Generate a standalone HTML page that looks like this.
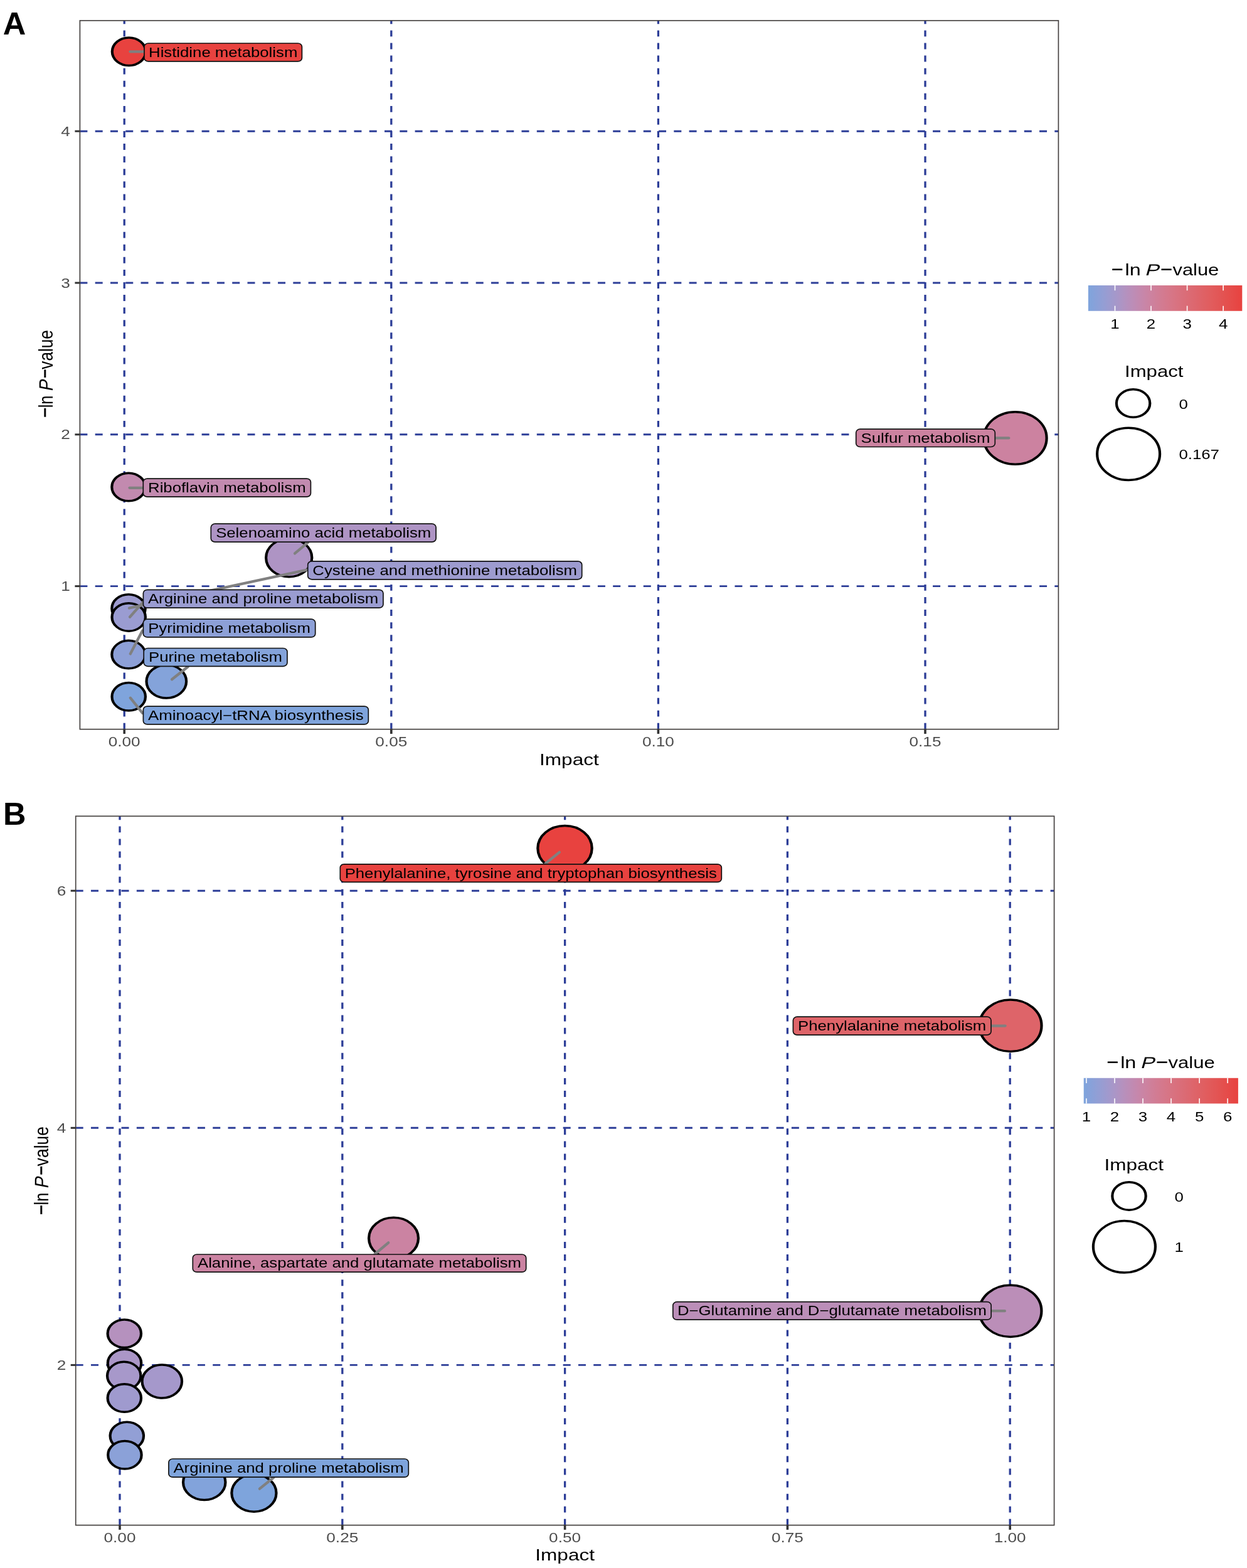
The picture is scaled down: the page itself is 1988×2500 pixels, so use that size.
<!DOCTYPE html>
<html><head><meta charset="utf-8"><title>Pathway analysis</title>
<style>html,body{margin:0;padding:0;background:#fff;} svg{display:block;}</style></head>
<body>
<svg width="1988" height="2500" viewBox="0 0 1988 2500" font-family='"Liberation Sans", Arial, Helvetica, sans-serif'><rect x="0" y="0" width="1988" height="2500" fill="#fff"/>
<line x1="127.4" y1="934.60" x2="1687.4" y2="934.60" stroke="#2d3e98" stroke-width="2.9" stroke-dasharray="12 12.28"/>
<line x1="127.4" y1="692.80" x2="1687.4" y2="692.80" stroke="#2d3e98" stroke-width="2.9" stroke-dasharray="12 12.28"/>
<line x1="127.4" y1="451.00" x2="1687.4" y2="451.00" stroke="#2d3e98" stroke-width="2.9" stroke-dasharray="12 12.28"/>
<line x1="127.4" y1="209.20" x2="1687.4" y2="209.20" stroke="#2d3e98" stroke-width="2.9" stroke-dasharray="12 12.28"/>
<line x1="198.20" y1="1162.7" x2="198.20" y2="32.8" stroke="#2d3e98" stroke-width="3.3" stroke-dasharray="9.9 10.18"/>
<line x1="623.80" y1="1162.7" x2="623.80" y2="32.8" stroke="#2d3e98" stroke-width="3.3" stroke-dasharray="9.9 10.18"/>
<line x1="1049.40" y1="1162.7" x2="1049.40" y2="32.8" stroke="#2d3e98" stroke-width="3.3" stroke-dasharray="9.9 10.18"/>
<line x1="1475.00" y1="1162.7" x2="1475.00" y2="32.8" stroke="#2d3e98" stroke-width="3.3" stroke-dasharray="9.9 10.18"/>
<g transform="translate(205.50 82.30) scale(1.2 1)"><circle r="22.25" fill="#e8423f" stroke="#000" stroke-width="3.5"/></g>
<g transform="translate(1618.50 698.40) scale(1.2 1)"><circle r="41.75" fill="#cc82a0" stroke="#000" stroke-width="3.5"/></g>
<g transform="translate(205.00 776.50) scale(1.2 1)"><circle r="22.25" fill="#c28aaf" stroke="#000" stroke-width="3.5"/></g>
<g transform="translate(460.70 889.20) scale(1.2 1)"><circle r="30.50" fill="#ae94c4" stroke="#000" stroke-width="3.5"/></g>
<g transform="translate(205.00 970.00) scale(1.2 1)"><circle r="22.25" fill="#9d9bcf" stroke="#000" stroke-width="3.5"/></g>
<g transform="translate(205.20 983.90) scale(1.2 1)"><circle r="22.25" fill="#9a9cd1" stroke="#000" stroke-width="3.5"/></g>
<g transform="translate(205.00 1043.60) scale(1.2 1)"><circle r="22.25" fill="#8da0d7" stroke="#000" stroke-width="3.5"/></g>
<g transform="translate(265.30 1086.50) scale(1.2 1)"><circle r="26.50" fill="#84a3da" stroke="#000" stroke-width="3.5"/></g>
<g transform="translate(205.20 1110.70) scale(1.2 1)"><circle r="22.25" fill="#7fa4dc" stroke="#000" stroke-width="3.5"/></g>
<line x1="207.5" y1="82.3" x2="232.0" y2="82.3" stroke="#808080" stroke-width="4.3" stroke-linecap="round"/>
<line x1="1608.3" y1="698.4" x2="1586.0" y2="698.4" stroke="#808080" stroke-width="4.3" stroke-linecap="round"/>
<line x1="206.5" y1="777.8" x2="230.0" y2="777.8" stroke="#808080" stroke-width="4.3" stroke-linecap="round"/>
<line x1="470.0" y1="882.4" x2="491.0" y2="864.9" stroke="#808080" stroke-width="4.3" stroke-linecap="round"/>
<line x1="206.0" y1="969.5" x2="490.3" y2="908.3" stroke="#808080" stroke-width="4.3" stroke-linecap="round"/>
<line x1="207.0" y1="983.7" x2="228.4" y2="959.6" stroke="#808080" stroke-width="4.3" stroke-linecap="round"/>
<line x1="207.8" y1="1042.4" x2="227.1" y2="1005.4" stroke="#808080" stroke-width="4.3" stroke-linecap="round"/>
<line x1="274.0" y1="1083.2" x2="299.6" y2="1063.0" stroke="#808080" stroke-width="4.3" stroke-linecap="round"/>
<line x1="207.8" y1="1112.7" x2="227.1" y2="1136.9" stroke="#808080" stroke-width="4.3" stroke-linecap="round"/>
<rect x="230.00" y="69.00" width="251.40" height="28.90" rx="6.5" ry="5.5" fill="#e8423f" stroke="#111" stroke-width="1.7"/>
<text x="237.09" y="91.00" font-size="21.5" fill="#000" text-anchor="start" textLength="237.23" lengthAdjust="spacingAndGlyphs">Histidine metabolism</text>
<rect x="1364.70" y="684.20" width="221.60" height="28.30" rx="6.5" ry="5.5" fill="#cc82a0" stroke="#111" stroke-width="1.7"/>
<text x="1372.61" y="705.60" font-size="21.5" fill="#000" text-anchor="start" textLength="205.79" lengthAdjust="spacingAndGlyphs">Sulfur metabolism</text>
<rect x="228.30" y="763.10" width="267.10" height="29.00" rx="6.5" ry="5.5" fill="#c28aaf" stroke="#111" stroke-width="1.7"/>
<text x="236.09" y="785.20" font-size="21.5" fill="#000" text-anchor="start" textLength="251.53" lengthAdjust="spacingAndGlyphs">Riboflavin metabolism</text>
<rect x="336.30" y="835.20" width="358.80" height="28.90" rx="6.5" ry="5.5" fill="#ae94c4" stroke="#111" stroke-width="1.7"/>
<text x="344.18" y="857.20" font-size="21.5" fill="#000" text-anchor="start" textLength="343.03" lengthAdjust="spacingAndGlyphs">Selenoamino acid metabolism</text>
<rect x="490.70" y="894.90" width="437.00" height="28.90" rx="6.5" ry="5.5" fill="#9d9bcf" stroke="#111" stroke-width="1.7"/>
<text x="498.38" y="916.90" font-size="21.5" fill="#000" text-anchor="start" textLength="421.64" lengthAdjust="spacingAndGlyphs">Cysteine and methionine metabolism</text>
<rect x="228.40" y="940.30" width="382.50" height="28.90" rx="6.5" ry="5.5" fill="#9a9cd1" stroke="#111" stroke-width="1.7"/>
<text x="235.98" y="962.30" font-size="21.5" fill="#000" text-anchor="start" textLength="367.34" lengthAdjust="spacingAndGlyphs">Arginine and proline metabolism</text>
<rect x="228.40" y="987.20" width="274.30" height="28.70" rx="6.5" ry="5.5" fill="#8da0d7" stroke="#111" stroke-width="1.7"/>
<text x="236.23" y="1009.00" font-size="21.5" fill="#000" text-anchor="start" textLength="258.65" lengthAdjust="spacingAndGlyphs">Pyrimidine metabolism</text>
<rect x="229.20" y="1033.50" width="228.70" height="28.80" rx="6.5" ry="5.5" fill="#84a3da" stroke="#111" stroke-width="1.7"/>
<text x="237.08" y="1055.40" font-size="21.5" fill="#000" text-anchor="start" textLength="212.94" lengthAdjust="spacingAndGlyphs">Purine metabolism</text>
<rect x="228.40" y="1126.10" width="358.90" height="28.80" rx="6.5" ry="5.5" fill="#7fa4dc" stroke="#111" stroke-width="1.7"/>
<text x="235.99" y="1148.00" font-size="21.5" fill="#000" text-anchor="start" textLength="343.71" lengthAdjust="spacingAndGlyphs">Aminoacyl−tRNA biosynthesis</text>
<rect x="127.4" y="32.8" width="1560.0" height="1129.9" fill="none" stroke="#464241" stroke-width="1.7"/>
<line x1="119.4" y1="934.60" x2="127.4" y2="934.60" stroke="#333333" stroke-width="3"/>
<text x="97.35" y="942.20" font-size="21.8" fill="#4d4d4d" text-anchor="start" textLength="14.55" lengthAdjust="spacingAndGlyphs">1</text>
<line x1="119.4" y1="692.80" x2="127.4" y2="692.80" stroke="#333333" stroke-width="3"/>
<text x="97.35" y="700.40" font-size="21.8" fill="#4d4d4d" text-anchor="start" textLength="14.55" lengthAdjust="spacingAndGlyphs">2</text>
<line x1="119.4" y1="451.00" x2="127.4" y2="451.00" stroke="#333333" stroke-width="3"/>
<text x="97.35" y="458.60" font-size="21.8" fill="#4d4d4d" text-anchor="start" textLength="14.55" lengthAdjust="spacingAndGlyphs">3</text>
<line x1="119.4" y1="209.20" x2="127.4" y2="209.20" stroke="#333333" stroke-width="3"/>
<text x="97.35" y="216.80" font-size="21.8" fill="#4d4d4d" text-anchor="start" textLength="14.55" lengthAdjust="spacingAndGlyphs">4</text>
<line x1="198.20" y1="1162.7" x2="198.20" y2="1170.0" stroke="#333333" stroke-width="3.6"/>
<text x="172.74" y="1190.30" font-size="21.8" fill="#4d4d4d" text-anchor="start" textLength="50.91" lengthAdjust="spacingAndGlyphs">0.00</text>
<line x1="623.80" y1="1162.7" x2="623.80" y2="1170.0" stroke="#333333" stroke-width="3.6"/>
<text x="598.34" y="1190.30" font-size="21.8" fill="#4d4d4d" text-anchor="start" textLength="50.91" lengthAdjust="spacingAndGlyphs">0.05</text>
<line x1="1049.40" y1="1162.7" x2="1049.40" y2="1170.0" stroke="#333333" stroke-width="3.6"/>
<text x="1023.94" y="1190.30" font-size="21.8" fill="#4d4d4d" text-anchor="start" textLength="50.91" lengthAdjust="spacingAndGlyphs">0.10</text>
<line x1="1475.00" y1="1162.7" x2="1475.00" y2="1170.0" stroke="#333333" stroke-width="3.6"/>
<text x="1449.54" y="1190.30" font-size="21.8" fill="#4d4d4d" text-anchor="start" textLength="50.91" lengthAdjust="spacingAndGlyphs">0.15</text>
<text x="860.04" y="1219.60" font-size="26.3" fill="#000" text-anchor="start" textLength="94.71" lengthAdjust="spacingAndGlyphs">Impact</text>
<g transform="translate(83.50 595.90) scale(1.2 1) rotate(-90)"><text stroke="#000" stroke-width="0.55" x="-70.00" y="-1.00" font-size="25.8" fill="#000" textLength="15.99" lengthAdjust="spacingAndGlyphs">−</text><text x="-54.46" y="0.00" font-size="25.8" fill="#000" textLength="19.76" lengthAdjust="spacingAndGlyphs">ln</text><g transform="translate(-28.70 0.00) scale(1.0651 1) skewX(-12)"><text x="0" y="0" font-size="25.8">P</text></g><text stroke="#000" stroke-width="0.55" x="-7.29" y="-1.00" font-size="25.8" fill="#000" textLength="14.66" lengthAdjust="spacingAndGlyphs">−</text><text x="7.26" y="0.00" font-size="25.8" fill="#000" textLength="62.55" lengthAdjust="spacingAndGlyphs">value</text></g>
<line x1="120.7" y1="2176.40" x2="1680.6" y2="2176.40" stroke="#2d3e98" stroke-width="2.9" stroke-dasharray="12 12.28"/>
<line x1="120.7" y1="1798.30" x2="1680.6" y2="1798.30" stroke="#2d3e98" stroke-width="2.9" stroke-dasharray="12 12.28"/>
<line x1="120.7" y1="1420.20" x2="1680.6" y2="1420.20" stroke="#2d3e98" stroke-width="2.9" stroke-dasharray="12 12.28"/>
<line x1="191.00" y1="2431.7" x2="191.00" y2="1301.3" stroke="#2d3e98" stroke-width="3.3" stroke-dasharray="9.9 10.18"/>
<line x1="545.80" y1="2431.7" x2="545.80" y2="1301.3" stroke="#2d3e98" stroke-width="3.3" stroke-dasharray="9.9 10.18"/>
<line x1="900.60" y1="2431.7" x2="900.60" y2="1301.3" stroke="#2d3e98" stroke-width="3.3" stroke-dasharray="9.9 10.18"/>
<line x1="1255.40" y1="2431.7" x2="1255.40" y2="1301.3" stroke="#2d3e98" stroke-width="3.3" stroke-dasharray="9.9 10.18"/>
<line x1="1610.20" y1="2431.7" x2="1610.20" y2="1301.3" stroke="#2d3e98" stroke-width="3.3" stroke-dasharray="9.9 10.18"/>
<g transform="translate(900.50 1352.50) scale(1.2 1)"><circle r="36.00" fill="#e8423f" stroke="#000" stroke-width="3.5"/></g>
<g transform="translate(1611.00 1635.20) scale(1.2 1)"><circle r="41.25" fill="#de6469" stroke="#000" stroke-width="3.5"/></g>
<g transform="translate(627.50 1974.20) scale(1.2 1)"><circle r="32.90" fill="#cb83a2" stroke="#000" stroke-width="3.5"/></g>
<g transform="translate(1610.90 2090.20) scale(1.2 1)"><circle r="41.25" fill="#bb8eb8" stroke="#000" stroke-width="3.5"/></g>
<g transform="translate(198.30 2126.30) scale(1.2 1)"><circle r="22.25" fill="#b591be" stroke="#000" stroke-width="3.5"/></g>
<g transform="translate(198.50 2173.50) scale(1.2 1)"><circle r="22.25" fill="#ab96c7" stroke="#000" stroke-width="3.5"/></g>
<g transform="translate(197.70 2193.60) scale(1.2 1)"><circle r="22.25" fill="#a798ca" stroke="#000" stroke-width="3.5"/></g>
<g transform="translate(258.30 2202.50) scale(1.2 1)"><circle r="26.45" fill="#a598cb" stroke="#000" stroke-width="3.5"/></g>
<g transform="translate(198.30 2229.00) scale(1.2 1)"><circle r="22.25" fill="#9f9ace" stroke="#000" stroke-width="3.5"/></g>
<g transform="translate(202.30 2289.50) scale(1.2 1)"><circle r="22.25" fill="#929fd5" stroke="#000" stroke-width="3.5"/></g>
<g transform="translate(198.90 2319.80) scale(1.2 1)"><circle r="22.25" fill="#8ba1d8" stroke="#000" stroke-width="3.5"/></g>
<g transform="translate(325.70 2363.30) scale(1.2 1)"><circle r="28.10" fill="#82a3db" stroke="#000" stroke-width="3.5"/></g>
<g transform="translate(404.90 2380.50) scale(1.2 1)"><circle r="29.65" fill="#7ea4dc" stroke="#000" stroke-width="3.5"/></g>
<line x1="891.8" y1="1358.8" x2="869.4" y2="1377.0" stroke="#808080" stroke-width="4.3" stroke-linecap="round"/>
<line x1="1602.6" y1="1635.6" x2="1580.0" y2="1635.6" stroke="#808080" stroke-width="4.3" stroke-linecap="round"/>
<line x1="619.2" y1="1981.4" x2="597.6" y2="1999.5" stroke="#808080" stroke-width="4.3" stroke-linecap="round"/>
<line x1="1601.8" y1="2090.2" x2="1580.0" y2="2090.2" stroke="#808080" stroke-width="4.3" stroke-linecap="round"/>
<line x1="413.9" y1="2373.6" x2="436.5" y2="2355.5" stroke="#808080" stroke-width="4.3" stroke-linecap="round"/>
<rect x="542.30" y="1377.80" width="608.00" height="28.60" rx="6.5" ry="5.5" fill="#e8423f" stroke="#111" stroke-width="1.7"/>
<text x="549.68" y="1399.50" font-size="21.5" fill="#000" text-anchor="start" textLength="593.23" lengthAdjust="spacingAndGlyphs">Phenylalanine, tyrosine and tryptophan biosynthesis</text>
<rect x="1264.40" y="1621.20" width="315.60" height="28.90" rx="6.5" ry="5.5" fill="#de6469" stroke="#111" stroke-width="1.7"/>
<text x="1272.12" y="1643.20" font-size="21.5" fill="#000" text-anchor="start" textLength="300.17" lengthAdjust="spacingAndGlyphs">Phenylalanine metabolism</text>
<rect x="307.30" y="2000.00" width="531.40" height="28.20" rx="6.5" ry="5.5" fill="#cb83a2" stroke="#111" stroke-width="1.7"/>
<text x="314.99" y="2021.30" font-size="21.5" fill="#000" text-anchor="start" textLength="516.01" lengthAdjust="spacingAndGlyphs">Alanine, aspartate and glutamate metabolism</text>
<rect x="1072.80" y="2075.70" width="507.30" height="28.50" rx="6.5" ry="5.5" fill="#bb8eb8" stroke="#111" stroke-width="1.7"/>
<text x="1079.90" y="2097.30" font-size="21.5" fill="#000" text-anchor="start" textLength="493.10" lengthAdjust="spacingAndGlyphs">D−Glutamine and D−glutamate metabolism</text>
<rect x="268.90" y="2326.00" width="382.40" height="29.20" rx="6.5" ry="5.5" fill="#7ea4dc" stroke="#111" stroke-width="1.7"/>
<text x="276.43" y="2348.30" font-size="21.5" fill="#000" text-anchor="start" textLength="367.34" lengthAdjust="spacingAndGlyphs">Arginine and proline metabolism</text>
<rect x="120.7" y="1301.3" width="1559.8999999999999" height="1130.3999999999999" fill="none" stroke="#464241" stroke-width="1.7"/>
<line x1="112.7" y1="2176.40" x2="120.7" y2="2176.40" stroke="#333333" stroke-width="3"/>
<text x="90.65" y="2184.00" font-size="21.8" fill="#4d4d4d" text-anchor="start" textLength="14.55" lengthAdjust="spacingAndGlyphs">2</text>
<line x1="112.7" y1="1798.30" x2="120.7" y2="1798.30" stroke="#333333" stroke-width="3"/>
<text x="90.65" y="1805.90" font-size="21.8" fill="#4d4d4d" text-anchor="start" textLength="14.55" lengthAdjust="spacingAndGlyphs">4</text>
<line x1="112.7" y1="1420.20" x2="120.7" y2="1420.20" stroke="#333333" stroke-width="3"/>
<text x="90.65" y="1427.80" font-size="21.8" fill="#4d4d4d" text-anchor="start" textLength="14.55" lengthAdjust="spacingAndGlyphs">6</text>
<line x1="191.00" y1="2431.7" x2="191.00" y2="2439.0" stroke="#333333" stroke-width="3.6"/>
<text x="165.54" y="2459.30" font-size="21.8" fill="#4d4d4d" text-anchor="start" textLength="50.91" lengthAdjust="spacingAndGlyphs">0.00</text>
<line x1="545.80" y1="2431.7" x2="545.80" y2="2439.0" stroke="#333333" stroke-width="3.6"/>
<text x="520.34" y="2459.30" font-size="21.8" fill="#4d4d4d" text-anchor="start" textLength="50.91" lengthAdjust="spacingAndGlyphs">0.25</text>
<line x1="900.60" y1="2431.7" x2="900.60" y2="2439.0" stroke="#333333" stroke-width="3.6"/>
<text x="875.14" y="2459.30" font-size="21.8" fill="#4d4d4d" text-anchor="start" textLength="50.91" lengthAdjust="spacingAndGlyphs">0.50</text>
<line x1="1255.40" y1="2431.7" x2="1255.40" y2="2439.0" stroke="#333333" stroke-width="3.6"/>
<text x="1229.94" y="2459.30" font-size="21.8" fill="#4d4d4d" text-anchor="start" textLength="50.91" lengthAdjust="spacingAndGlyphs">0.75</text>
<line x1="1610.20" y1="2431.7" x2="1610.20" y2="2439.0" stroke="#333333" stroke-width="3.6"/>
<text x="1584.74" y="2459.30" font-size="21.8" fill="#4d4d4d" text-anchor="start" textLength="50.91" lengthAdjust="spacingAndGlyphs">1.00</text>
<text x="853.29" y="2487.80" font-size="26.3" fill="#000" text-anchor="start" textLength="94.71" lengthAdjust="spacingAndGlyphs">Impact</text>
<g transform="translate(76.80 1866.50) scale(1.2 1) rotate(-90)"><text stroke="#000" stroke-width="0.55" x="-70.71" y="-1.00" font-size="25.8" fill="#000" textLength="16.15" lengthAdjust="spacingAndGlyphs">−</text><text x="-55.02" y="0.00" font-size="25.8" fill="#000" textLength="19.96" lengthAdjust="spacingAndGlyphs">ln</text><g transform="translate(-29.00 0.00) scale(1.0759 1) skewX(-12)"><text x="0" y="0" font-size="25.8">P</text></g><text stroke="#000" stroke-width="0.55" x="-7.36" y="-1.00" font-size="25.8" fill="#000" textLength="14.81" lengthAdjust="spacingAndGlyphs">−</text><text x="7.33" y="0.00" font-size="25.8" fill="#000" textLength="63.19" lengthAdjust="spacingAndGlyphs">value</text></g>
<defs><linearGradient id="gA" x1="0" x2="1" y1="0" y2="0"><stop offset="0.000" stop-color="#7ea4dc"/><stop offset="0.050" stop-color="#89a1d9"/><stop offset="0.100" stop-color="#949ed4"/><stop offset="0.150" stop-color="#9f9ace"/><stop offset="0.200" stop-color="#aa96c7"/><stop offset="0.250" stop-color="#b591be"/><stop offset="0.300" stop-color="#be8cb5"/><stop offset="0.350" stop-color="#c687ab"/><stop offset="0.400" stop-color="#cc83a1"/><stop offset="0.450" stop-color="#d07e97"/><stop offset="0.500" stop-color="#d4798e"/><stop offset="0.550" stop-color="#d77585"/><stop offset="0.600" stop-color="#d9707d"/><stop offset="0.650" stop-color="#db6b75"/><stop offset="0.700" stop-color="#dd666d"/><stop offset="0.750" stop-color="#df6165"/><stop offset="0.800" stop-color="#e15c5d"/><stop offset="0.850" stop-color="#e25656"/><stop offset="0.900" stop-color="#e4504e"/><stop offset="0.950" stop-color="#e64947"/><stop offset="1.000" stop-color="#e8423f"/></linearGradient></defs>
<rect x="1734.9" y="455.0" width="245.39999999999986" height="40.80000000000001" fill="url(#gA)"/>
<line x1="1777.5" y1="455.0" x2="1777.5" y2="463.16" stroke="#fff" stroke-width="1.6"/>
<line x1="1777.5" y1="487.64" x2="1777.5" y2="495.8" stroke="#fff" stroke-width="1.6"/>
<text x="1770.33" y="524.30" font-size="21.5" fill="#000" text-anchor="start" textLength="14.35" lengthAdjust="spacingAndGlyphs">1</text>
<line x1="1835.0" y1="455.0" x2="1835.0" y2="463.16" stroke="#fff" stroke-width="1.6"/>
<line x1="1835.0" y1="487.64" x2="1835.0" y2="495.8" stroke="#fff" stroke-width="1.6"/>
<text x="1827.83" y="524.30" font-size="21.5" fill="#000" text-anchor="start" textLength="14.35" lengthAdjust="spacingAndGlyphs">2</text>
<line x1="1892.6" y1="455.0" x2="1892.6" y2="463.16" stroke="#fff" stroke-width="1.6"/>
<line x1="1892.6" y1="487.64" x2="1892.6" y2="495.8" stroke="#fff" stroke-width="1.6"/>
<text x="1885.43" y="524.30" font-size="21.5" fill="#000" text-anchor="start" textLength="14.35" lengthAdjust="spacingAndGlyphs">3</text>
<line x1="1950.1" y1="455.0" x2="1950.1" y2="463.16" stroke="#fff" stroke-width="1.6"/>
<line x1="1950.1" y1="487.64" x2="1950.1" y2="495.8" stroke="#fff" stroke-width="1.6"/>
<text x="1942.93" y="524.30" font-size="21.5" fill="#000" text-anchor="start" textLength="14.35" lengthAdjust="spacingAndGlyphs">4</text>
<text stroke="#000" stroke-width="0.55" x="1772.29" y="438.10" font-size="25.5" fill="#000" textLength="18.51" lengthAdjust="spacingAndGlyphs">−</text><text x="1793.53" y="439.10" font-size="25.5" fill="#000" textLength="25.12" lengthAdjust="spacingAndGlyphs">ln</text><g transform="translate(1824.63 439.10) scale(1.3225 1) skewX(-12)"><text x="0" y="0" font-size="25.5">P</text></g><text stroke="#000" stroke-width="0.55" x="1850.54" y="438.10" font-size="25.5" fill="#000" textLength="18.51" lengthAdjust="spacingAndGlyphs">−</text><text x="1869.59" y="439.10" font-size="25.5" fill="#000" textLength="73.67" lengthAdjust="spacingAndGlyphs">value</text>
<text x="1793.00" y="601.40" font-size="26" textLength="93.50" lengthAdjust="spacingAndGlyphs">Impact</text>
<g transform="translate(1806.60 643.10) scale(1.2 1)"><circle r="22.25" fill="none" stroke="#000" stroke-width="3.5"/></g>
<text x="1879.40" y="652.20" font-size="21.5" fill="#000" text-anchor="start" textLength="14.35" lengthAdjust="spacingAndGlyphs">0</text>
<g transform="translate(1799.10 723.80) scale(1.2 1)"><circle r="41.65" fill="none" stroke="#000" stroke-width="3.5"/></g>
<text x="1879.40" y="732.00" font-size="21.5" fill="#000" text-anchor="start" textLength="64.56" lengthAdjust="spacingAndGlyphs">0.167</text>
<defs><linearGradient id="gB" x1="0" x2="1" y1="0" y2="0"><stop offset="0.000" stop-color="#7ea4dc"/><stop offset="0.050" stop-color="#89a1d9"/><stop offset="0.100" stop-color="#949ed4"/><stop offset="0.150" stop-color="#9f9ace"/><stop offset="0.200" stop-color="#aa96c7"/><stop offset="0.250" stop-color="#b591be"/><stop offset="0.300" stop-color="#be8cb5"/><stop offset="0.350" stop-color="#c687ab"/><stop offset="0.400" stop-color="#cc83a1"/><stop offset="0.450" stop-color="#d07e97"/><stop offset="0.500" stop-color="#d4798e"/><stop offset="0.550" stop-color="#d77585"/><stop offset="0.600" stop-color="#d9707d"/><stop offset="0.650" stop-color="#db6b75"/><stop offset="0.700" stop-color="#dd666d"/><stop offset="0.750" stop-color="#df6165"/><stop offset="0.800" stop-color="#e15c5d"/><stop offset="0.850" stop-color="#e25656"/><stop offset="0.900" stop-color="#e4504e"/><stop offset="0.950" stop-color="#e64947"/><stop offset="1.000" stop-color="#e8423f"/></linearGradient></defs>
<rect x="1727.7" y="1718.8" width="246.20000000000005" height="40.700000000000045" fill="url(#gB)"/>
<line x1="1731.9" y1="1718.8" x2="1731.9" y2="1726.94" stroke="#fff" stroke-width="1.6"/>
<line x1="1731.9" y1="1751.36" x2="1731.9" y2="1759.5" stroke="#fff" stroke-width="1.6"/>
<text x="1724.73" y="1788.00" font-size="21.5" fill="#000" text-anchor="start" textLength="14.35" lengthAdjust="spacingAndGlyphs">1</text>
<line x1="1777.0" y1="1718.8" x2="1777.0" y2="1726.94" stroke="#fff" stroke-width="1.6"/>
<line x1="1777.0" y1="1751.36" x2="1777.0" y2="1759.5" stroke="#fff" stroke-width="1.6"/>
<text x="1769.83" y="1788.00" font-size="21.5" fill="#000" text-anchor="start" textLength="14.35" lengthAdjust="spacingAndGlyphs">2</text>
<line x1="1822.0" y1="1718.8" x2="1822.0" y2="1726.94" stroke="#fff" stroke-width="1.6"/>
<line x1="1822.0" y1="1751.36" x2="1822.0" y2="1759.5" stroke="#fff" stroke-width="1.6"/>
<text x="1814.83" y="1788.00" font-size="21.5" fill="#000" text-anchor="start" textLength="14.35" lengthAdjust="spacingAndGlyphs">3</text>
<line x1="1867.0" y1="1718.8" x2="1867.0" y2="1726.94" stroke="#fff" stroke-width="1.6"/>
<line x1="1867.0" y1="1751.36" x2="1867.0" y2="1759.5" stroke="#fff" stroke-width="1.6"/>
<text x="1859.83" y="1788.00" font-size="21.5" fill="#000" text-anchor="start" textLength="14.35" lengthAdjust="spacingAndGlyphs">4</text>
<line x1="1912.1" y1="1718.8" x2="1912.1" y2="1726.94" stroke="#fff" stroke-width="1.6"/>
<line x1="1912.1" y1="1751.36" x2="1912.1" y2="1759.5" stroke="#fff" stroke-width="1.6"/>
<text x="1904.93" y="1788.00" font-size="21.5" fill="#000" text-anchor="start" textLength="14.35" lengthAdjust="spacingAndGlyphs">5</text>
<line x1="1957.1" y1="1718.8" x2="1957.1" y2="1726.94" stroke="#fff" stroke-width="1.6"/>
<line x1="1957.1" y1="1751.36" x2="1957.1" y2="1759.5" stroke="#fff" stroke-width="1.6"/>
<text x="1949.93" y="1788.00" font-size="21.5" fill="#000" text-anchor="start" textLength="14.35" lengthAdjust="spacingAndGlyphs">6</text>
<text stroke="#000" stroke-width="0.55" x="1764.83" y="1702.30" font-size="25.5" fill="#000" textLength="18.60" lengthAdjust="spacingAndGlyphs">−</text><text x="1786.17" y="1703.30" font-size="25.5" fill="#000" textLength="25.25" lengthAdjust="spacingAndGlyphs">ln</text><g transform="translate(1817.44 1703.30) scale(1.3292 1) skewX(-12)"><text x="0" y="0" font-size="25.5">P</text></g><text stroke="#000" stroke-width="0.55" x="1843.47" y="1702.30" font-size="25.5" fill="#000" textLength="18.60" lengthAdjust="spacingAndGlyphs">−</text><text x="1862.63" y="1703.30" font-size="25.5" fill="#000" textLength="74.05" lengthAdjust="spacingAndGlyphs">value</text>
<text x="1760.50" y="1866.10" font-size="26" textLength="94.50" lengthAdjust="spacingAndGlyphs">Impact</text>
<g transform="translate(1800.00 1906.90) scale(1.2 1)"><circle r="22.25" fill="none" stroke="#000" stroke-width="3.5"/></g>
<text x="1872.60" y="1916.00" font-size="21.5" fill="#000" text-anchor="start" textLength="14.35" lengthAdjust="spacingAndGlyphs">0</text>
<g transform="translate(1792.40 1987.80) scale(1.2 1)"><circle r="41.25" fill="none" stroke="#000" stroke-width="3.5"/></g>
<text x="1872.60" y="1996.00" font-size="21.5" fill="#000" text-anchor="start" textLength="14.35" lengthAdjust="spacingAndGlyphs">1</text>
<text x="4.7" y="54.9" font-size="50.5" font-weight="bold">A</text>
<text x="4.9" y="1315.1" font-size="50.5" font-weight="bold">B</text></svg>
</body></html>
